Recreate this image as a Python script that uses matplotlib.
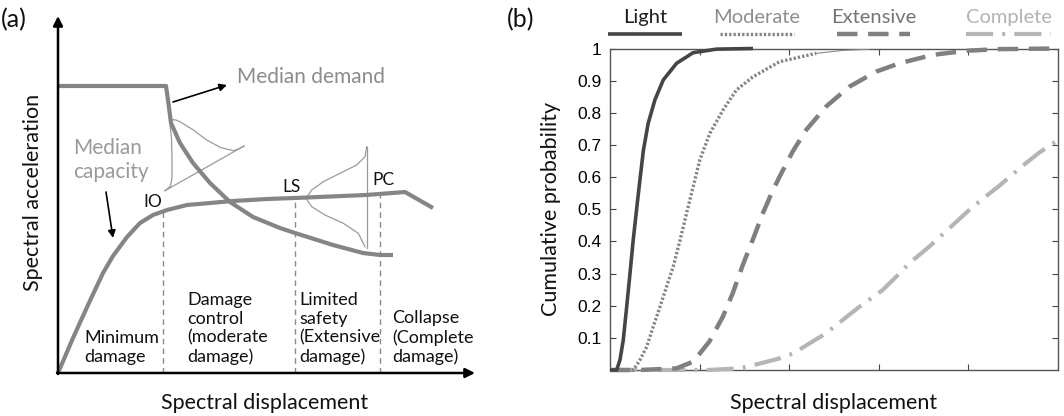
import matplotlib
matplotlib.use("Agg")
import matplotlib.pyplot as plt
from matplotlib.lines import Line2D

plt.rcParams['font.family'] = ['Lato', 'DejaVu Sans']

# ---------------- (a) capacity spectrum schematic ----------------
capacity_x = [0, 15, 30, 45, 55, 69, 82, 95, 109, 129, 152, 175, 209, 237, 308, 347, 375]
capacity_y = [0, 35, 68, 100, 117, 136, 150, 158, 163, 168, 170, 172, 174, 175, 178, 181, 165]

demand_x = [0, 108, 110, 113, 122, 135, 152, 172, 195, 222, 237, 275, 305, 322, 335]
demand_y = [287, 287, 273, 250, 230, 210, 190, 171, 156, 145, 140, 128, 120, 118, 118]

# dispersion sketch around the demand curve near IO
pdf1_x = [107, 112.5, 114, 114, 113.5, 112, 113, 118, 122, 135.3, 148.7, 162, 175.3, 182, 186]
pdf1_y = [182.3, 187, 195, 215, 235, 248, 253.5, 253, 251.3, 243, 233, 225.7, 222.3, 224.7, 227]
pdf1_base_x = [107, 186]
pdf1_base_y = [182.3, 227]

# dispersion sketch around the capacity curve between LS and PC
pdf2_x = [308.7, 307, 298.7, 282, 265.3, 253.7, 248, 253.7, 267, 285.3, 300.3, 307]
pdf2_y = [226.3, 216.3, 208, 199.7, 191.3, 183, 174.7, 166.3, 158, 149.7, 139.7, 126.3]
pdf2_base_x = [308.7, 308.7]
pdf2_base_y = [226.3, 124.7]

limit_x = [105, 237, 322]
limit_top = [162, 175, 178]
limit_names = ['IO', 'LS', 'PC']
limit_label_xy = [(95, 171), (233, 186), (325, 193)]

region_texts = ['Minimum\ndamage',
                'Damage\ncontrol\n(moderate\ndamage)',
                'Limited\nsafety\n(Extensive\ndamage)',
                'Collapse\n(Complete\ndamage)']
region_x = [26, 129, 241, 334]

# ---------------- (b) fragility curves ----------------
damage_states = ['Light', 'Moderate', 'Extensive', 'Complete']

light_x = [0.0, 0.074, 0.111, 0.148, 0.186, 0.223, 0.259, 0.300, 0.334, 0.373,
           0.426, 0.501, 0.594, 0.743, 0.928, 1.188, 1.596]
light_y = [0.0, 0.0, 0.031, 0.093, 0.196, 0.300, 0.404, 0.508, 0.591, 0.684,
           0.767, 0.840, 0.902, 0.954, 0.987, 0.998, 1.0]

moderate_x = [0.0, 0.26, 0.334, 0.409, 0.482, 0.557, 0.631, 0.705, 0.782, 0.854,
              0.928, 1.002, 1.114, 1.262, 1.411, 1.596, 1.893, 2.302]
moderate_y = [0.0, 0.0, 0.031, 0.072, 0.134, 0.196, 0.259, 0.321, 0.404, 0.487,
              0.570, 0.653, 0.736, 0.809, 0.871, 0.912, 0.959, 0.985]
moderate_tail_x = [2.302, 2.6, 2.9]
moderate_tail_y = [0.985, 0.994, 0.998]

extensive_x = [0.0, 0.33, 0.74, 0.93, 1.11, 1.26, 1.37, 1.48, 1.60, 1.71, 1.80,
               1.89, 2.04, 2.19, 2.41, 2.67, 2.97, 3.23, 3.60, 3.97, 4.34, 5.0]
extensive_y = [0.0, 0.0, 0.005, 0.026, 0.089, 0.166, 0.239, 0.325, 0.41, 0.49, 0.548,
               0.600, 0.680, 0.747, 0.819, 0.881, 0.928, 0.954, 0.98, 0.993, 0.998, 1.0]

complete_x = [0.0, 1.08, 1.45, 1.67, 1.89, 2.04, 2.41, 2.78, 3.04, 3.23, 3.34,
              3.56, 4.05, 4.34, 4.64, 4.79, 5.0]
complete_y = [0.0, 0.0, 0.005, 0.020, 0.036, 0.051, 0.114, 0.196, 0.248, 0.300, 0.332,
              0.383, 0.508, 0.572, 0.643, 0.676, 0.715]

prob_ticks = [0.1, 0.2, 0.3, 0.4, 0.5, 0.6, 0.7, 0.8, 0.9, 1.0]
prob_tick_labels = ['0.1', '0.2', '0.3', '0.4', '0.5', '0.6', '0.7', '0.8', '0.9', '1']
disp_ticks = [1, 2, 3, 4]

fig = plt.figure(figsize=(10.64, 4.16), dpi=100)

# ================= panel (a) =================
axa = fig.add_axes([0, 0, 500 / 1064, 1])
axa.set_xlim(-58, 442)
axa.set_ylim(-43, 373)
axa.axis('off')

curve_grey = '#858585'
axa.plot(capacity_x, capacity_y, color=curve_grey, lw=3, solid_capstyle='butt',
         solid_joinstyle='round', zorder=3)
axa.plot(demand_x, demand_y, color=curve_grey, lw=3, solid_capstyle='butt',
         solid_joinstyle='round', zorder=3)
axa.plot(pdf1_x, pdf1_y, color='#9a9a9a', lw=0.9, zorder=2)
axa.plot(pdf1_base_x, pdf1_base_y, color='#9a9a9a', lw=0.9, zorder=2)
axa.plot(pdf2_x, pdf2_y, color='#9a9a9a', lw=0.9, zorder=2)
axa.plot(pdf2_base_x, pdf2_base_y, color='#9a9a9a', lw=0.9, zorder=2)

for lx, top in zip(limit_x, limit_top):
    axa.plot([lx, lx], [0, top], color='#8a8a8a', lw=1.0, ls=(0, (4, 3)), zorder=1)
for name, (tx, ty) in zip(limit_names, limit_label_xy):
    axa.text(tx, ty, name, fontsize=12.5, ha='center', va='center', color='#111111')

for txt, rx in zip(region_texts, region_x):
    axa.text(rx, 8, txt, fontsize=13, ha='left', va='bottom',
             linespacing=1.2, color='#111111')

# coordinate axes with arrow heads
axa.annotate('', xy=(0, 357), xytext=(0, -1),
             arrowprops=dict(arrowstyle='-|>', color='black', lw=1.8,
                             mutation_scale=14, shrinkA=0, shrinkB=0))
axa.annotate('', xy=(417, 0), xytext=(-1, 0),
             arrowprops=dict(arrowstyle='-|>', color='black', lw=1.8,
                             mutation_scale=14, shrinkA=0, shrinkB=0))

# callouts
axa.annotate('', xy=(169, 288), xytext=(115, 271),
             arrowprops=dict(arrowstyle='-|>', color='black', lw=1.2,
                             mutation_scale=11, shrinkA=0, shrinkB=0))
axa.annotate('', xy=(55, 135), xytext=(48, 181),
             arrowprops=dict(arrowstyle='-|>', color='black', lw=1.2,
                             mutation_scale=11, shrinkA=0, shrinkB=0))
axa.text(179, 296, 'Median demand', fontsize=15, color='#8c8c8c', ha='left', va='center')
axa.text(15, 213, 'Median\ncapacity', fontsize=15, color='#9a9a9a', ha='left', va='center',
         linespacing=1.2)

axa.text(207, -30, 'Spectral displacement', fontsize=15.5, ha='center', va='center',
         color='#111111')
axa.text(-25, 181, 'Spectral acceleration', fontsize=15.5, ha='center', va='center',
         rotation=90, color='#111111')
axa.text(-57, 353, '(a)', fontsize=18, ha='left', va='center', color='#111111')

# ================= panel (b) =================
axb = fig.add_axes([610 / 1064, 46 / 416, 448 / 1064, 321.5 / 416])
axb.set_xlim(0, 5)
axb.set_ylim(0, 1)

styles = {
    'Light': dict(color='#454545', lw=2.6, ls='-'),
    'Moderate': dict(color='#858585', lw=2.4, ls=(0, (0.7, 0.6))),
    'Extensive': dict(color='#808080', lw=3.2, ls=(0, (4.6, 2.4))),
    'Complete': dict(color='#b5b5b5', lw=3.0, ls=(0, (6.5, 2.2, 0.7, 2.2))),
}
series = {
    'Light': (light_x, light_y),
    'Moderate': (moderate_x, moderate_y),
    'Extensive': (extensive_x, extensive_y),
    'Complete': (complete_x, complete_y),
}
for name in ['Complete', 'Extensive', 'Moderate', 'Light']:
    xs, ys = series[name]
    st = styles[name]
    axb.plot(xs, ys, color=st['color'], lw=st['lw'], ls=st['ls'],
             solid_capstyle='butt', dash_capstyle='butt', solid_joinstyle='round',
             clip_on=False, zorder=3)
axb.plot(moderate_tail_x, moderate_tail_y, color='#8a8a8a', lw=0.8, zorder=3)

axb.set_yticks(prob_ticks)
axb.set_yticklabels(prob_tick_labels, fontfamily='Liberation Sans', fontsize=12.5)
axb.set_xticks(disp_ticks)
axb.set_xticklabels([])
axb.tick_params(direction='in', length=4, width=0.8, color='#444444',
                top=True, right=True, pad=6)
for sp in axb.spines.values():
    sp.set_color('#555555')
    sp.set_linewidth(1.0)

axb.set_xlabel('Spectral displacement', fontsize=15.5, color='#111111', va='center')
axb.xaxis.set_label_coords(0.5, (370 - 403) / 321.5)
axb.set_ylabel('Cumulative probability', fontsize=15.5, color='#111111', va='center')
axb.yaxis.set_label_coords((551 - 610) / 448, 0.5)

# legend drawn above the frame: name on top, line sample underneath
legend_text_colors = ['#1e1e1e', '#8e8e8e', '#747474', '#b3b3b3']
legend_line_span = [(-0.005, 0.160), (0.245, 0.410), (0.507, 0.670), (0.795, 0.985)]
for name, tcol, (x0, x1) in zip(damage_states, legend_text_colors, legend_line_span):
    st = styles[name]
    axb.add_line(Line2D([x0, x1], [1.046, 1.046], transform=axb.transAxes,
                        color=st['color'], lw=st['lw'], ls=st['ls'],
                        dash_capstyle='butt', solid_capstyle='butt', clip_on=False))
    axb.text((x0 + x1) / 2, 1.097, name, transform=axb.transAxes, fontsize=14.5,
             ha='center', va='center', color=tcol)

fig.text(507 / 1064, 1 - 20 / 416, '(b)', fontsize=18, ha='left', va='center',
         color='#111111')

fig.savefig('out.png', dpi=100)
